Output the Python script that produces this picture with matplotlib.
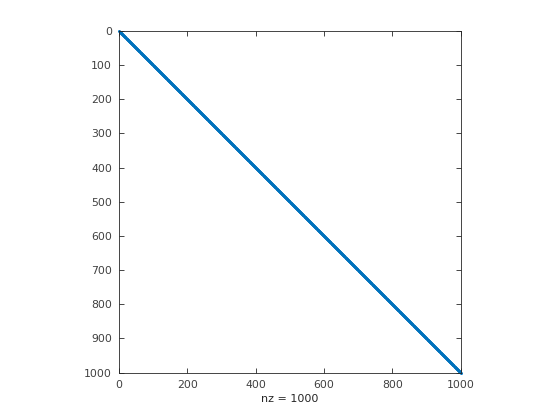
import numpy as np
import matplotlib
matplotlib.use("Agg")
import matplotlib.pyplot as plt

n = 1000
matrix = np.eye(n)
xticks = [0, 200, 400, 600, 800, 1000]
yticks = [0, 100, 200, 300, 400, 500, 600, 700, 800, 900, 1000]

rows, cols = np.nonzero(matrix)
rows = rows + 1
cols = cols + 1

fig = plt.figure(figsize=(5.6, 4.2), dpi=100)
ax = fig.add_axes([119/560, 47/420, 342/560, 342/420])
ax.plot(cols, rows, linestyle='none', marker='.', markersize=2.3, color='#0072BD', clip_on=False)
ax.set_xlim(0, n + 1)
ax.set_ylim(n + 1, 0)
ax.set_xticks(xticks)
ax.set_yticks(yticks)
ax.tick_params(direction='in', top=True, right=True, length=3.5, width=0.6,
               labelsize=7.8, colors='#262626', labelcolor='#404040', pad=5)
for s in ax.spines.values():
    s.set_linewidth(0.6)
    s.set_color('#262626')
ax.set_xlabel('nz = 1000', fontsize=8, color='#262626', labelpad=3)
fig.savefig('out.png', dpi=100)
